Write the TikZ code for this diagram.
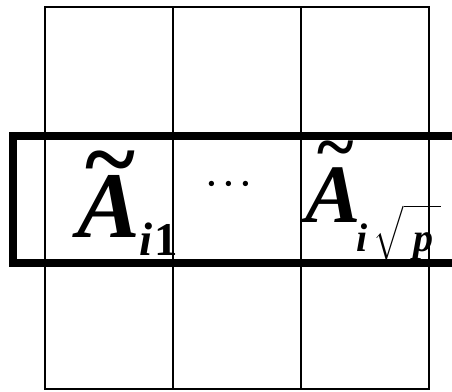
\RequirePackage{fix-cm}
\documentclass[tikz,border=0pt]{standalone}
\usepackage{fontspec}
\setmainfont{Liberation Serif}
\usetikzlibrary{positioning}
\DeclareFontShape{OMX}{cmex}{m}{n}{<->cmex10}{}
\tikzset{
  gridline/.style={draw=black,line width=1.6pt},
  bandbox/.style={draw=black,line width=8pt},
  symtext/.style={inner sep=0pt,anchor=base west,text=black,font=\bfseries\itshape},
  dotsym/.style={inner sep=0pt,font=\fontsize{34}{34}\selectfont\boldmath}
}
\newcommand{\bigtilde}[3]{\rlap{\hspace{#1}\raisebox{#2}{\fontsize{#3}{#3}\selectfont\upshape\textasciitilde}}}

\begin{document}
\begin{tikzpicture}[x=1pt,y=-1pt]
  \clip (0,0) rectangle (452,391);
  % block labels
  \node[symtext] (a1) at (77,237)
    {\fontsize{94}{94}\selectfont\bigtilde{8pt}{46pt}{96pt}A\raisebox{-18pt}{\fontsize{47}{47}\selectfont i\hspace{2pt}\upshape 1}};
  \node[dotsym] (dots) at (229,184) {$\cdots$};
  \node[symtext] (ap) at (305,222)
    {\fontsize{83}{83}\selectfont\bigtilde{12pt}{52pt}{70pt}A\hspace{-4pt}\raisebox{-29pt}{\fontsize{40}{40}\selectfont i}\hspace{6pt}\raisebox{-29pt}{\fontsize{30}{30}\selectfont$\sqrt{\hspace{10pt}\mbox{\fontsize{40}{40}\selectfont p}\hspace{7pt}\rule{0pt}{42pt}}$}};
  % 3x3 block grid
  \draw[gridline] (45,7) rectangle (429,389);
  \foreach \x in {173,301} \draw[gridline] (\x,7) -- (\x,389);
  \foreach \y in {135,262} \draw[gridline] (45,\y) -- (429,\y);
  % highlighted block row
  \draw[bandbox] (13,135.5) rectangle (470,263);
\end{tikzpicture}
\end{document}
